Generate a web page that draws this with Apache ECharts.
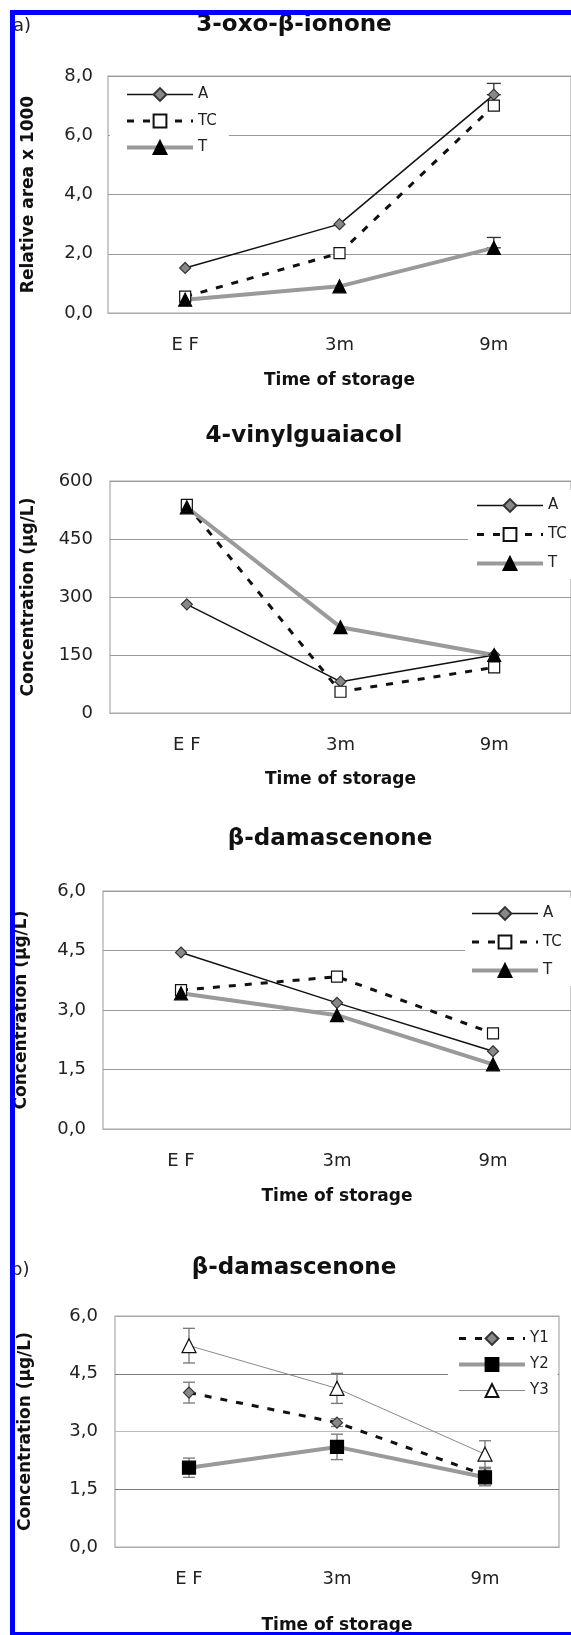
<!DOCTYPE html>
<html>
<head>
<meta charset="utf-8">
<script src="https://cdn.jsdelivr.net/npm/echarts@6/dist/echarts.min.js"></script>
<style>
  html, body { margin: 0; padding: 0; background: #fff; }
  #main { width: 571px; height: 1635px; }
</style>
</head>
<body>
<div id="main"></div>
<script>
const CATEGORIES = ['E F', '3m', '9m'];

// a) 3-oxo-β-ionone (relative area x 1000)
const OXO_A = [1.52, 3.0, 7.37];
const OXO_TC = [0.55, 2.02, 7.0];
const OXO_T = [0.45, 0.9, 2.2];
const OXO_ERR_A = [0, 0, 0.38];     // only the upper whisker shows
const OXO_ERR_T = [0, 0, 0.35];

// 4-vinylguaiacol (µg/L)
const VIN_A = [281, 81, 150];
const VIN_TC = [538, 55, 118];
const VIN_T = [532, 222, 150];

// β-damascenone (µg/L)
const DAM_A = [4.45, 3.18, 1.96];
const DAM_TC = [3.5, 3.84, 2.41];
const DAM_T = [3.42, 2.87, 1.63];

// b) β-damascenone by yeast (µg/L) with symmetric errors
const YEAST_Y1 = [4.01, 3.23, 1.87];
const YEAST_Y2 = [2.06, 2.6, 1.81];
const YEAST_Y3 = [5.23, 4.12, 2.41];
const YEAST_ERR_Y1 = [0.27, 0.1, 0.2];
const YEAST_ERR_Y2 = [0.25, 0.33, 0.22];
const YEAST_ERR_Y3 = [0.45, 0.39, 0.35];

const FONT = 'DejaVu Sans';
const GRID_COLOR = '#9a9a9a';

// 系列样式
const STYLE = {
    A:  {symbol: 'diamond', symbolSize: 11, color: '#888', border: '#333', line: '#111', width: 1.5, type: 'solid'},
    TC: {symbol: 'rect', symbolSize: 11, color: '#fff', border: '#111', line: '#111', width: 3, type: [7, 9]},
    T:  {symbol: 'triangle', symbolSize: 13, color: '#000', border: '#000', line: '#9a9a9a', width: 4, type: 'solid'},
    Y1: {symbol: 'diamond', symbolSize: 11, color: '#888', border: '#333', line: '#111', width: 3, type: [7, 9]},
    Y2: {symbol: 'rect', symbolSize: 13, color: '#000', border: '#000', line: '#9a9a9a', width: 4, type: 'solid'},
    Y3: {symbol: 'triangle', symbolSize: 14, color: '#fff', border: '#111', line: '#8a8a8a', width: 1, type: 'solid'}
};

function lineSeries(name, data, idx){
    const s = STYLE[name];
    return {
        name: name,
        type: 'line',
        xAxisIndex: idx,
        yAxisIndex: idx,
        data: data,
        symbol: s.symbol,
        symbolSize: s.symbolSize,
        showAllSymbol: true,
        z: 3,
        lineStyle: {color: s.line, width: s.width, type: s.type},
        itemStyle: {color: s.color, borderColor: s.border, borderWidth: 1.2},
        emphasis: {disabled: true}
    };
}

// 图例项：线宽跟随系列
function legendItems(names){
    return names.map(n => ({
        name: n,
        lineStyle: {width: STYLE[n].width, color: STYLE[n].line, type: STYLE[n].type}
    }));
}

function errorSeries(idx, values, errUp, errDown, color, cap){
    const data = values.map((v, i) => [i, v - errDown[i], v + errUp[i]])
        .filter(d => d[2] > d[1]);
    return {
        type: 'custom',
        xAxisIndex: idx,
        yAxisIndex: idx,
        z: 2,
        silent: true,
        encode: {x: 0, y: [1, 2]},
        data: data,
        renderItem(params, api){
            const top = api.coord([api.value(0), api.value(2)]);
            const bot = api.coord([api.value(0), api.value(1)]);
            const st = {stroke: color, lineWidth: 1.3};
            return {
                type: 'group',
                children: [
                    {type: 'line', shape: {x1: top[0], y1: top[1], x2: bot[0], y2: bot[1]}, style: st},
                    {type: 'line', shape: {x1: top[0] - cap, y1: top[1], x2: top[0] + cap, y2: top[1]}, style: st},
                    {type: 'line', shape: {x1: bot[0] - cap, y1: bot[1], x2: bot[0] + cap, y2: bot[1]}, style: st}
                ]
            };
        }
    };
}

const GRIDS = [
    {left: 108, top: 76, width: 471, height: 237},
    {left: 110, top: 481, width: 474, height: 232},
    {left: 103, top: 891, width: 470, height: 238},
    {left: 115, top: 1316, width: 444, height: 238}
];

const Y_RANGES = [
    {max: 8, interval: 2, decimals: true, name: 'Relative area x 1000', nameGap: 70.5, margin: 15},
    {max: 600, interval: 150, decimals: false, name: 'Concentration (µg/L)', nameGap: 72.5, margin: 17},
    {max: 6, interval: 1.5, decimals: true, name: 'Concentration (µg/L)', nameGap: 72.5, margin: 17},
    {max: 6, interval: 1.5, decimals: true, name: 'Concentration (µg/L)', nameGap: 80.5, margin: 17}
];

const SPLIT_COLORS = [
    GRID_COLOR, GRID_COLOR, GRID_COLOR,
    ['#aaa', '#7a7a7a', '#bbb', '#7a7a7a', '#aaa']
];

const X_NAME_GAP = [59.5, 58.5, 59, 70];

const chart = echarts.init(document.getElementById('main'), null, {renderer: 'canvas'});

const titleStyle = (text, x, y) => ({
    type: 'text', x: x, y: y, z: 50,
    style: {text: text, font: 'bold 23px "DejaVu Sans"', fill: '#111',
            align: 'center', textAlign: 'center', verticalAlign: 'middle', textVerticalAlign: 'middle'}
});

const option = {
    backgroundColor: '#fff',
    animation: false,
    grid: GRIDS.map(g => Object.assign({show: true, borderColor: '#aaa', borderWidth: 1.2, backgroundColor: '#fff'}, g)),
    xAxis: GRIDS.map((g, i) => ({
        type: 'category',
        gridIndex: i,
        data: CATEGORIES,
        boundaryGap: true,
        axisTick: {show: false},
        axisLine: {lineStyle: {color: '#aaa', width: 1.2}},
        axisLabel: {margin: 23, fontFamily: FONT, fontSize: 18, color: '#222'},
        name: 'Time of storage',
        nameLocation: 'middle',
        nameGap: X_NAME_GAP[i],
        nameTextStyle: {fontFamily: FONT, fontSize: 17, fontWeight: 'bold', color: '#111'}
    })),
    yAxis: Y_RANGES.map((r, i) => ({
        type: 'value',
        gridIndex: i,
        min: 0,
        max: r.max,
        interval: r.interval,
        axisLine: {show: false},
        axisTick: {show: false},
        splitLine: {lineStyle: {color: SPLIT_COLORS[i], width: 1.2}},
        axisLabel: {
            margin: r.margin,
            fontFamily: FONT,
            fontSize: 18,
            color: '#222',
            formatter: v => r.decimals ? v.toFixed(1).replace('.', ',') : String(v)
        },
        name: r.name,
        nameLocation: 'middle',
        nameRotate: 90,
        nameGap: r.nameGap,
        nameTextStyle: {fontFamily: FONT, fontSize: 17, fontWeight: 'bold', color: '#111'}
    })),
    legend: [
        {data: legendItems(['A', 'TC', 'T']), left: 110, top: 79, padding: [8, 12, 8, 15], itemGap: 11.5},
        {data: legendItems(['A', 'TC', 'T']), left: 468, top: 490, padding: [8, 40, 8, 7], itemGap: 14},
        {data: legendItems(['A', 'TC', 'T']), left: 465, top: 898, padding: [8, 30, 8, 5], itemGap: 13.5},
        {data: legendItems(['Y1', 'Y2', 'Y3']), left: 448, top: 1323, padding: [8, 9, 8, 9], itemGap: 11}
    ].map(l => Object.assign({
        orient: 'vertical',
        itemWidth: 66,
        itemHeight: 16,
        backgroundColor: '#fff',
        selectedMode: false,
        textStyle: {fontFamily: FONT, fontSize: 15, color: '#222'}
    }, l)),
    graphic: [
        {type: 'text', x: 13, y: 26, z: 50, style: {text: 'a)', font: '18px "DejaVu Sans"', fill: '#222', verticalAlign: 'middle', textVerticalAlign: 'middle'}},
        {type: 'text', x: 11, y: 1270, z: 50, style: {text: 'b)', font: '18px "DejaVu Sans"', fill: '#222', verticalAlign: 'middle', textVerticalAlign: 'middle'}},
        titleStyle('3-oxo-β-ionone', 294, 25),
        titleStyle('4-vinylguaiacol', 304, 436),
        titleStyle('β-damascenone', 330, 839),
        titleStyle('β-damascenone', 294, 1268),
        // 扫描图的蓝色边框
        {type: 'rect', z: 100, shape: {x: 10, y: 10, width: 561, height: 5}, style: {fill: '#0000ff'}},
        {type: 'rect', z: 100, shape: {x: 10, y: 10, width: 5, height: 1625}, style: {fill: '#0000ff'}},
        {type: 'rect', z: 100, shape: {x: 10, y: 1632, width: 561, height: 3}, style: {fill: '#0000ff'}}
    ],
    series: [
        errorSeries(0, OXO_A, OXO_ERR_A, [0, 0, 0], '#333', 7),
        errorSeries(0, OXO_T, OXO_ERR_T, [0, 0, 0], '#333', 7),
        lineSeries('A', OXO_A, 0),
        lineSeries('TC', OXO_TC, 0),
        lineSeries('T', OXO_T, 0),

        lineSeries('A', VIN_A, 1),
        lineSeries('TC', VIN_TC, 1),
        lineSeries('T', VIN_T, 1),

        lineSeries('A', DAM_A, 2),
        lineSeries('TC', DAM_TC, 2),
        lineSeries('T', DAM_T, 2),

        errorSeries(3, YEAST_Y1, YEAST_ERR_Y1, YEAST_ERR_Y1, '#777', 6),
        errorSeries(3, YEAST_Y2, YEAST_ERR_Y2, YEAST_ERR_Y2, '#777', 6),
        errorSeries(3, YEAST_Y3, YEAST_ERR_Y3, YEAST_ERR_Y3, '#777', 6),
        lineSeries('Y1', YEAST_Y1, 3),
        lineSeries('Y2', YEAST_Y2, 3),
        lineSeries('Y3', YEAST_Y3, 3)
    ]
};

chart.setOption(option);
</script>
</body>
</html>
